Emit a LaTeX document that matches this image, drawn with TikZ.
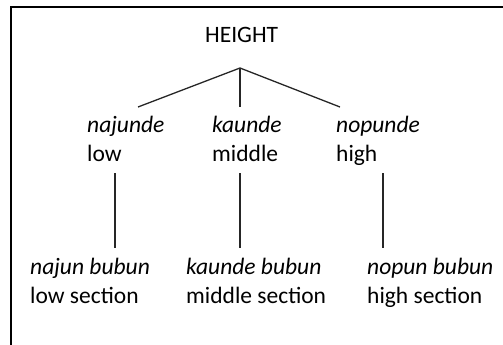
\documentclass[tikz,border=0pt]{standalone}
\usepackage{fontspec}
\setmainfont{Carlito}
\begin{document}
\begin{tikzpicture}[x=1pt,y=-1pt,
  lbl/.style={inner sep=0pt,anchor=base west,align=left,
    font=\fontsize{23.5}{29}\selectfont},
  branch/.style={line width=1.3pt,draw=black!85},
  frame/.style={line width=2pt,draw=black}]
\useasboundingbox (0,0) rectangle (503,345);
% open frame: top and left edges only
\draw[frame] (503,7.5) -- (10.5,7.5) -- (10.5,345);

% root
\node[lbl] (root) at (205,43) {HEIGHT};

% first level (anchor sits on the baseline of the last line)
\node[lbl] (low)  at (87,161)  {\textit{najunde}\\low};
\node[lbl] (mid)  at (212,161) {\textit{kaunde}\\middle};
\node[lbl] (high) at (336,161) {\textit{nopunde}\\high};

% second level
\node[lbl] (lowsec)  at (30,303)  {\textit{najun bubun}\\low section};
\node[lbl] (midsec)  at (186,303) {\textit{kaunde bubun}\\middle section};
\node[lbl] (highsec) at (367,303) {\textit{nopun bubun}\\high section};

% branching points
\coordinate (apex) at (240,68);
\coordinate (lowtop)  at (138,107);
\coordinate (midtop)  at (240,107);
\coordinate (hightop) at (340,107);
\coordinate (lowdown)  at (115,173);
\coordinate (middown)  at (240,173);
\coordinate (highdown) at (383,173);
\coordinate (lowend)  at (115,248);
\coordinate (midend)  at (240,248);
\coordinate (highend) at (383,248);

\draw[branch] (lowtop) -- (apex) -- (hightop);
\draw[branch] (apex) -- (midtop);
\draw[branch] (lowdown) -- (lowend);
\draw[branch] (middown) -- (midend);
\draw[branch] (highdown) -- (highend);
\end{tikzpicture}
\end{document}
